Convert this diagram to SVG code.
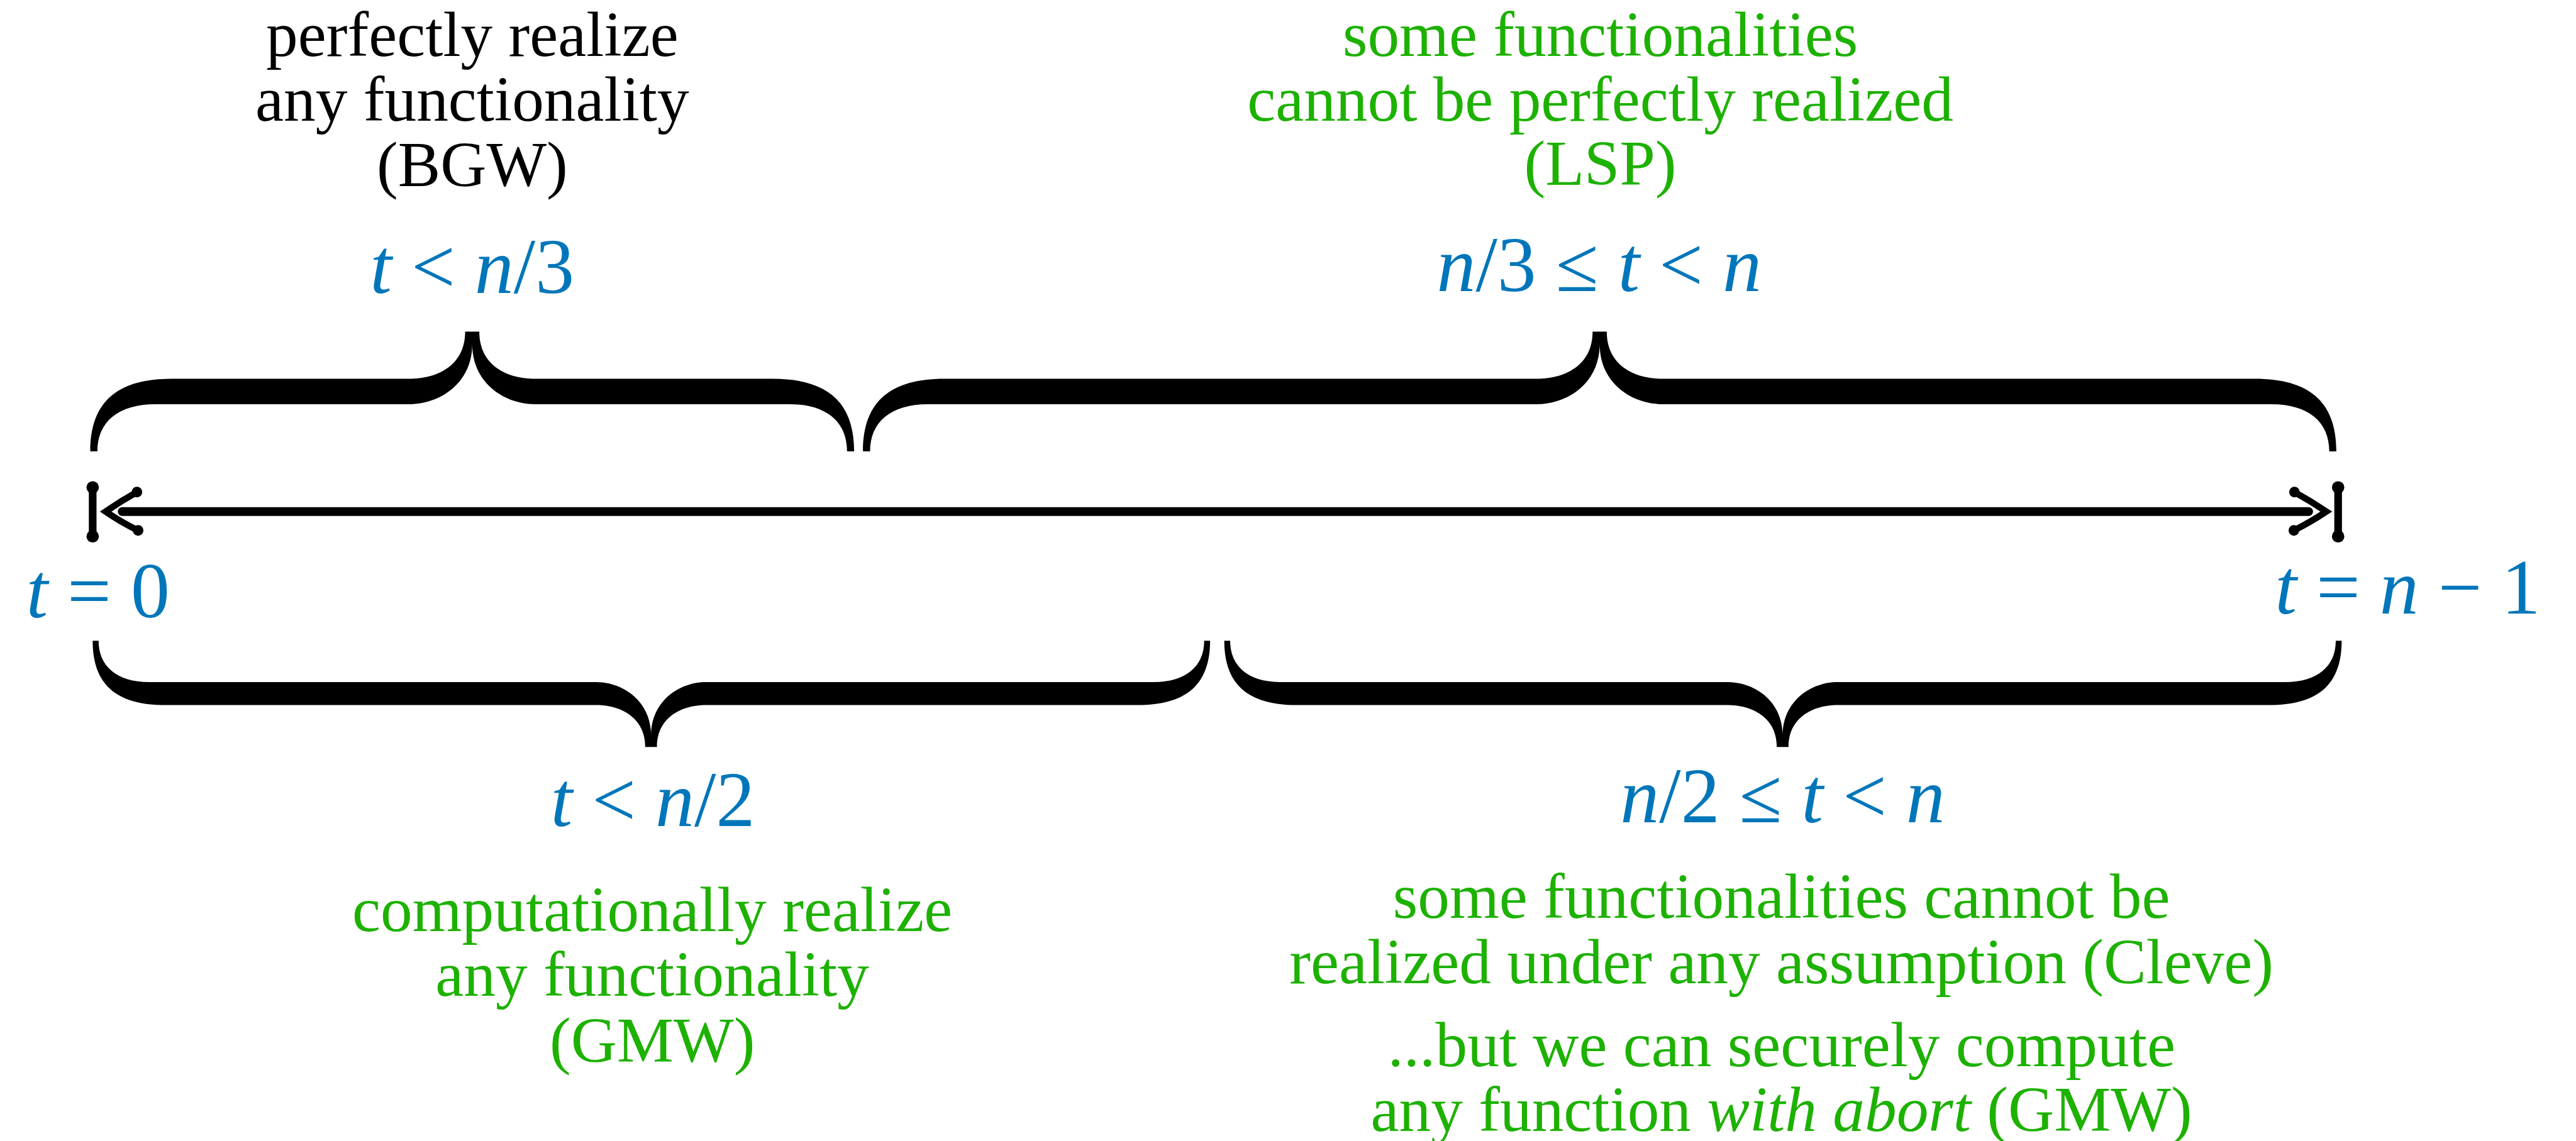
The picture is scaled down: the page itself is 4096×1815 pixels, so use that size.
<svg xmlns="http://www.w3.org/2000/svg" width="4096" height="1815" viewBox="0 0 4096 1815">
<style>
.t{font-family:"Liberation Serif","Times New Roman",serif;font-size:108px;text-anchor:middle}
.m{font-family:"Liberation Serif","Times New Roman",serif;font-size:132px;text-anchor:middle;fill:#0076BA}
.k{fill:#000}
.g{fill:#1DB100}
.i{font-style:italic}
.brace{fill:#000;stroke:none}
.ax{fill:none;stroke:#000;stroke-width:15;stroke-linecap:round;stroke-linejoin:round}
.hd{fill:none;stroke:#000;stroke-width:11;stroke-linecap:round;stroke-linejoin:miter}
</style>
<rect width="4096" height="1815" fill="#fff"/>
<g transform="scale(0.938594)">
<g id="connectors">
<line class="ax" x1="207" y1="867" x2="3911" y2="867"/>
<path class="hd" d="M232,834 Q205,849 179,867 Q205,885 234,899"/>
<path class="hd" d="M3887,834 Q3914,849 3941,867 Q3914,885 3886,899"/>
<circle cx="232" cy="834" r="9"/><circle cx="234" cy="899" r="9"/>
<circle cx="3887" cy="834" r="9"/><circle cx="3886" cy="899" r="9"/>
<line x1="157" y1="826" x2="157" y2="909" stroke="#000" stroke-width="13"/>
<circle cx="157" cy="826" r="10.5"/><circle cx="157" cy="909" r="10.5"/>
<line x1="3961" y1="826" x2="3961" y2="909" stroke="#000" stroke-width="13"/>
<circle cx="3961" cy="826" r="10.5"/><circle cx="3961" cy="909" r="10.5"/>
</g>
<g id="end-left">
<text class="m" x="166" y="1046"><tspan class="i">t</tspan> = 0</text>
</g>
<g id="end-right">
<text class="m" x="4079" y="1040"><tspan class="i">t</tspan> = <tspan class="i">n</tspan> − 1</text>
</g>
<g id="brace-bgw">
<path class="brace" d="M153,765 C153,680 200,642 291,642 L693,642 C740,642 788,620 788,562 L812,562 C812,620 860,642 907,642 L1309,642 C1400,642 1447,680 1447,765 L1435,765 C1435,715 1400,685 1337,685 L907,685 C855,685 800,650 800,583 C800,650 745,685 693,685 L263,685 C200,685 165,715 165,765 Z"/>
<text class="m" x="800" y="497"><tspan class="i">t</tspan> &lt; <tspan class="i">n</tspan>/3</text>
<text class="t k" x="800" y="95">perfectly realize</text>
<text class="t k" x="800" y="205">any functionality</text>
<text class="t k" x="800" y="315">(BGW)</text>
</g>
<g id="brace-lsp">
<path class="brace" d="M1462,765 C1462,680 1509,642 1600,642 L2603,642 C2650,642 2698,620 2698,562 L2722,562 C2722,620 2770,642 2817,642 L3820,642 C3911,642 3958,680 3958,765 L3946,765 C3946,715 3911,685 3848,685 L2817,685 C2765,685 2710,650 2710,583 C2710,650 2655,685 2603,685 L1572,685 C1509,685 1474,715 1474,765 Z"/>
<text class="m" x="2709" y="493"><tspan class="i">n</tspan>/3 ≤ <tspan class="i">t</tspan> &lt; <tspan class="i">n</tspan></text>
<text class="t g" x="2711" y="95">some functionalities</text>
<text class="t g" x="2711" y="205">cannot be perfectly realized</text>
<text class="t g" x="2711" y="313">(LSP)</text>
</g>
<g id="brace-gmw">
<path class="brace" d="M157,1086 C157,1162 199,1195 280,1195 L1010,1195 C1050,1195 1093,1215 1093,1266 L1113,1266 C1113,1215 1156,1195 1196,1195 L1927,1195 C2008,1195 2050,1162 2050,1086 L2040,1086 C2040,1130 2008,1156 1955,1156 L1196,1156 C1152,1156 1103,1187 1103,1247 C1103,1187 1054,1156 1010,1156 L252,1156 C199,1156 167,1130 167,1086 Z"/>
<text class="m" x="1106" y="1400"><tspan class="i">t</tspan> &lt; <tspan class="i">n</tspan>/2</text>
<text class="t g" x="1105" y="1578">computationally realize</text>
<text class="t g" x="1105" y="1688">any functionality</text>
<text class="t g" x="1105" y="1799">(GMW)</text>
</g>
<g id="brace-cleve">
<path class="brace" d="M2074,1086 C2074,1162 2116,1195 2197,1195 L2927,1195 C2967,1195 3010,1215 3010,1266 L3030,1266 C3030,1215 3073,1195 3113,1195 L3844,1195 C3925,1195 3967,1162 3967,1086 L3957,1086 C3957,1130 3925,1156 3872,1156 L3113,1156 C3069,1156 3020,1187 3020,1247 C3020,1187 2971,1156 2927,1156 L2169,1156 C2116,1156 2084,1130 2084,1086 Z"/>
<text class="m" x="3020" y="1394"><tspan class="i">n</tspan>/2 ≤ <tspan class="i">t</tspan> &lt; <tspan class="i">n</tspan></text>
<text class="t g" x="3018" y="1556">some functionalities cannot be</text>
<text class="t g" x="3018" y="1666">realized under any assumption (Cleve)</text>
<text class="t g" x="3018" y="1807">...but we can securely compute</text>
<text class="t g" x="3018" y="1917">any function <tspan class="i">with abort</tspan> (GMW)</text>
</g>
</g>
</svg>
